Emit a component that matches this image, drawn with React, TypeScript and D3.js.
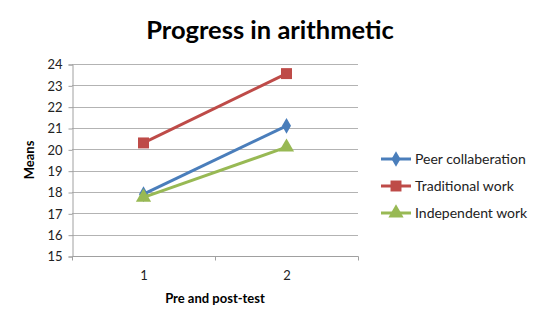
import React, { useRef, useEffect } from 'react';
import * as d3 from 'd3';

const categories = ['1', '2'];
const yTicks = [15, 16, 17, 18, 19, 20, 21, 22, 23, 24];

const peerCollab = [17.9, 21.1];
const traditionalWork = [20.3, 23.55];
const independentWork = [17.75, 20.1];

const seriesList = [
  { name: 'Peer collaberation', values: peerCollab, color: '#4A7EBB', marker: 'diamond' },
  { name: 'Traditional work', values: traditionalWork, color: '#BE4B48', marker: 'square' },
  { name: 'Independent work', values: independentWork, color: '#98B954', marker: 'triangle' },
];

const FONT = 'Lato, "Open Sans", sans-serif';

const App: React.FC = () => {
  const svgRef = useRef<SVGSVGElement>(null);

  useEffect(() => {
    if (!svgRef.current) return;
    const svg = d3.select(svgRef.current);
    svg.selectAll('*').remove();

    const W = 546;
    const H = 329;
    const plot = { left: 72, right: 358, top: 64, bottom: 256 };

    svg.append('rect').attr('width', W).attr('height', H).attr('fill', '#fff');
    // chart border
    svg.append('rect')
      .attr('x', 2.5).attr('y', 2.5)
      .attr('width', 539).attr('height', 322)
      .attr('fill', 'none')
      .attr('stroke', '#a6a6a6')
      .attr('stroke-width', 2);

    const x = d3.scaleBand().domain(categories).range([plot.left, plot.right]);
    const y = d3.scaleLinear().domain([15, 24]).range([plot.bottom, plot.top]);
    const cx = (c: string) => (x(c) as number) + x.bandwidth() / 2;

    // title
    svg.append('text')
      .attr('x', 270).attr('y', 39)
      .attr('text-anchor', 'middle')
      .attr('font-family', FONT)
      .attr('font-weight', 'bold')
      .attr('font-size', 25.5)
      .attr('fill', '#000')
      .text('Progress in arithmetic');

    // gridlines
    svg.append('g')
      .selectAll('line')
      .data(yTicks.filter((t) => t !== 15))
      .join('line')
      .attr('x1', plot.left).attr('x2', plot.right)
      .attr('y1', (d) => Math.round(y(d)) + 0.5).attr('y2', (d) => Math.round(y(d)) + 0.5)
      .attr('stroke', '#b3b3b3')
      .attr('stroke-width', 1);

    // y axis
    const yAxis = d3.axisLeft(y).tickValues(yTicks).tickSize(4).tickPadding(6);
    const yG = svg.append('g')
      .attr('transform', `translate(${plot.left + 0.5},0.5)`)
      .call(yAxis);
    yG.selectAll('path, line').attr('stroke', '#a0a0a0');
    yG.selectAll('text')
      .attr('font-family', FONT)
      .attr('font-size', 13)
      .attr('fill', '#222');

    // x axis
    const xAxis = d3.axisBottom(x).tickSize(0).tickPadding(14);
    const xG = svg.append('g')
      .attr('transform', `translate(0.5,${plot.bottom + 0.5})`)
      .call(xAxis);
    xG.select('path').attr('stroke', '#a0a0a0').attr('d', `M${plot.left},0H${plot.right}`);
    xG.selectAll('text')
      .attr('font-family', FONT)
      .attr('font-size', 13)
      .attr('fill', '#222');
    // tick marks on band boundaries
    xG.selectAll('.bound')
      .data([plot.left, plot.left + x.bandwidth(), plot.right])
      .join('line')
      .attr('x1', (d) => d).attr('x2', (d) => d)
      .attr('y1', 0).attr('y2', 4)
      .attr('stroke', '#a0a0a0');

    // axis titles
    svg.append('text')
      .attr('transform', `translate(34,${(plot.top + plot.bottom) / 2}) rotate(-90)`)
      .attr('text-anchor', 'middle')
      .attr('font-family', FONT)
      .attr('font-weight', 'bold')
      .attr('font-size', 13)
      .text('Means');
    svg.append('text')
      .attr('x', (plot.left + plot.right) / 2).attr('y', 303)
      .attr('text-anchor', 'middle')
      .attr('font-family', FONT)
      .attr('font-weight', 'bold')
      .attr('font-size', 13)
      .text('Pre and post-test');

    const symbolFor = (m: string) =>
      m === 'diamond'
        ? d3.symbol().type(d3.symbolDiamond).size(70)
        : m === 'square'
          ? d3.symbol().type(d3.symbolSquare).size(120)
          : d3.symbol().type(d3.symbolTriangle).size(100);

    const line = d3.line<number>()
      .x((_, i) => cx(categories[i]))
      .y((d) => y(d));

    seriesList.forEach((s) => {
      svg.append('path')
        .datum(s.values)
        .attr('d', line)
        .attr('fill', 'none')
        .attr('stroke', s.color)
        .attr('stroke-width', 3);
      svg.append('g')
        .selectAll('path')
        .data(s.values)
        .join('path')
        .attr('transform', (d, i) => `translate(${cx(categories[i])},${y(d)})`)
        .attr('d', symbolFor(s.marker)())
        .attr('fill', s.color);
    });

    // legend
    const legend = svg.append('g').attr('transform', 'translate(381,159)');
    seriesList.forEach((s, i) => {
      const gRow = legend.append('g').attr('transform', `translate(0,${i * 27})`);
      gRow.append('line')
        .attr('x1', 0).attr('x2', 30)
        .attr('y1', 0).attr('y2', 0)
        .attr('stroke', s.color)
        .attr('stroke-width', 3);
      gRow.append('path')
        .attr('transform', 'translate(15,0)')
        .attr('d', symbolFor(s.marker)())
        .attr('fill', s.color);
      gRow.append('text')
        .attr('x', 34).attr('y', 5)
        .attr('font-family', FONT)
        .attr('font-size', 14)
        .attr('fill', '#222')
        .text(s.name);
    });
  }, []);

  return (
    <div style={{ margin: -8 }}>
      <svg ref={svgRef} width={546} height={329} style={{ display: 'block' }} />
    </div>
  );
};

export default App;
